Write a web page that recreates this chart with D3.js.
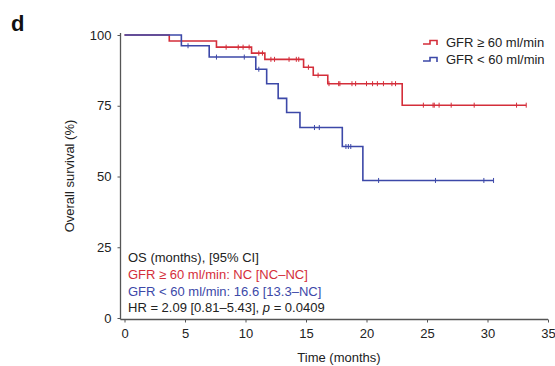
<!DOCTYPE html>
<html>
<head>
<meta charset="utf-8">
<script src="https://cdn.jsdelivr.net/npm/d3@7"></script>
<style>
  body { margin: 0; background: #fff; }
  svg { font-family: "Liberation Sans", Arial, Helvetica, sans-serif; }
</style>
</head>
<body>
<script>
// Kaplan-Meier steps (months, % survival)
const redTimes = [0, 3.7, 7.6, 10.5, 11.6, 14.8, 15.6, 16.8, 22.95];
const redSurv  = [100, 97.9, 95.7, 93.6, 91.4, 88.6, 85.8, 82.8, 75.2];
const redEnd = 33.2;
const redCensor = [8.4, 9.4, 9.8, 10.3, 11.1, 11.4, 12.1, 12.4, 13.6, 14.2, 14.4, 15.2, 16.0,
  16.9, 17.7, 17.8, 18.8, 19.1, 20.0, 20.5, 20.9, 21.4, 22.1, 22.4,
  24.7, 25.5, 25.6, 26.0, 27.0, 28.9, 32.4, 33.2];

const blueTimes = [0, 4.7, 7.0, 10.85, 11.75, 12.7, 13.4, 14.5, 18.0, 19.7];
const blueSurv  = [100, 96.2, 92.2, 87.9, 82.8, 77.6, 72.6, 67.3, 60.6, 48.6];
const blueEnd = 30.5;
const blueCensor = [5.25, 7.6, 9.9, 11.1, 15.7, 16.1, 18.3, 18.5, 18.7, 21.0, 25.7, 29.7, 30.5];

const xTicks = [0, 5, 10, 15, 20, 25, 30, 35];
const yTicks = [0, 25, 50, 75, 100];
const legendLabels = ["GFR \u2265 60 ml/min", "GFR < 60 ml/min"];

const red = "#d42e3a", blue = "#3c48a8", ink = "#222";

const svg = d3.select("body").append("svg")
  .attr("width", 555)
  .attr("height", 366);

const x = d3.scaleLinear().domain([0, 35]).range([124.5, 548]);
const y = d3.scaleLinear().domain([0, 100]).range([318, 35]);

// panel letter
svg.append("text")
  .attr("x", 11).attr("y", 30.5)
  .attr("font-size", 22).attr("font-weight", "bold").attr("fill", "#111")
  .text("d");

// x axis
const xAxisY = 319.5;
const gx = svg.append("g")
  .attr("transform", "translate(0," + xAxisY + ")")
  .call(d3.axisBottom(x).tickValues(xTicks).tickSize(3).tickPadding(6));
gx.select(".domain").remove();
gx.append("line")
  .attr("x1", 120.5).attr("x2", x(35)).attr("y1", 0).attr("y2", 0)
  .attr("stroke", "#555").attr("stroke-width", 1.3);
gx.selectAll(".tick line").attr("stroke", "#555");
gx.selectAll(".tick text").attr("font-size", 13).attr("fill", ink)
  .attr("font-family", "Liberation Sans, Arial, sans-serif");

// y axis
const yAxisX = 120.5;
const gy = svg.append("g")
  .attr("transform", "translate(" + yAxisX + ",0)")
  .call(d3.axisLeft(y).tickValues(yTicks).tickSize(3).tickPadding(6));
gy.select(".domain").remove();
gy.append("line")
  .attr("x1", 0).attr("x2", 0).attr("y1", 33).attr("y2", xAxisY)
  .attr("stroke", "#555").attr("stroke-width", 1.3);
gy.selectAll(".tick line").attr("stroke", "#555");
gy.selectAll(".tick text").attr("font-size", 13).attr("fill", ink)
  .attr("font-family", "Liberation Sans, Arial, sans-serif");

// axis titles
svg.append("text")
  .attr("transform", "translate(74,176) rotate(-90)")
  .attr("text-anchor", "middle").attr("font-size", 13).attr("fill", ink)
  .text("Overall survival (%)");
svg.append("text")
  .attr("x", 339).attr("y", 362)
  .attr("text-anchor", "middle").attr("font-size", 13).attr("fill", ink)
  .text("Time (months)");

// survival curves
const line = d3.line()
  .x(d => x(d[0])).y(d => y(d[1]))
  .curve(d3.curveStepAfter);

function stepAt(times, surv, t) {
  let v = surv[0];
  for (let i = 0; i < times.length; i++) if (times[i] <= t) v = surv[i];
  return v;
}

function drawCurve(times, surv, end, censor, color) {
  const pts = times.map((t, i) => [t, surv[i]]);
  pts.push([end, surv[surv.length - 1]]);
  svg.append("path")
    .datum(pts)
    .attr("d", line)
    .attr("fill", "none")
    .attr("stroke", color)
    .attr("stroke-width", 1.6);
  svg.append("g").selectAll("line")
    .data(censor)
    .enter()
    .append("line")
      .attr("x1", d => x(d)).attr("x2", d => x(d))
      .attr("y1", d => y(stepAt(times, surv, d)) - 2.5)
      .attr("y2", d => y(stepAt(times, surv, d)) + 2.5)
      .attr("stroke", color)
      .attr("stroke-width", 1);
}

drawCurve(redTimes, redSurv, redEnd, redCensor, red);
drawCurve(blueTimes, blueSurv, blueEnd, blueCensor, blue);

// legend
const legendColors = [red, blue];
legendLabels.forEach((lab, i) => {
  const ly = 44 + i * 17;
  svg.append("path")
    .attr("d", "M423," + ly + "H430V" + (ly - 3.5) + "H437V" + (ly + 1))
    .attr("fill", "none").attr("stroke", legendColors[i]).attr("stroke-width", 1.6);
  svg.append("text")
    .attr("x", 446).attr("y", ly + 3)
    .attr("font-size", 13).attr("fill", ink)
    .text(lab);
});

// annotation block
const note = svg.append("g").attr("font-size", 13);
note.append("text").attr("x", 128).attr("y", 261.5).attr("fill", ink)
  .text("OS (months), [95% CI]");
note.append("text").attr("x", 128).attr("y", 278.5).attr("fill", red)
  .text("GFR \u2265 60 ml/min: NC [NC\u2013NC]");
note.append("text").attr("x", 128).attr("y", 295.5).attr("fill", blue)
  .text("GFR < 60 ml/min: 16.6 [13.3\u2013NC]");
const hr = note.append("text").attr("x", 128).attr("y", 312).attr("fill", ink);
hr.append("tspan").text("HR = 2.09 [0.81\u20135.43], ");
hr.append("tspan").attr("font-style", "italic").text("p");
hr.append("tspan").text(" = 0.0409");
</script>
</body>
</html>
